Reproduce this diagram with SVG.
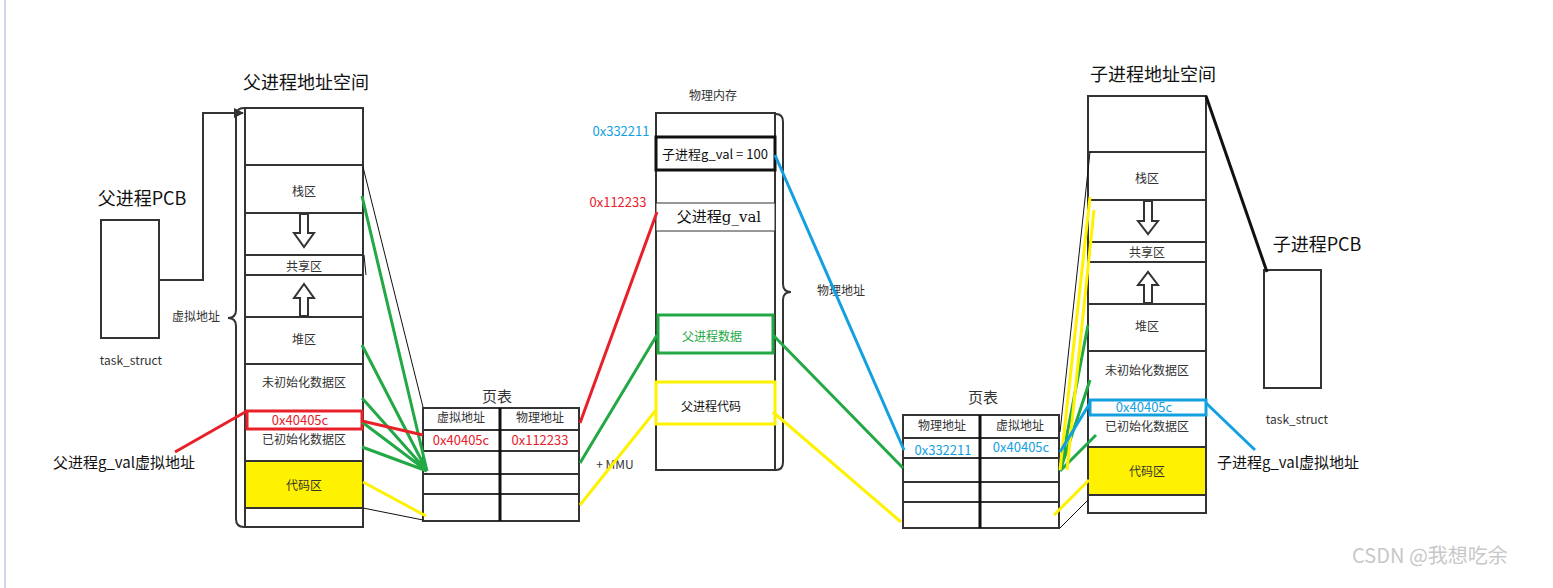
<svg xmlns="http://www.w3.org/2000/svg" width="1553" height="588" viewBox="0 0 1553 588">
<defs>
<style>
text{font-family:"Microsoft YaHei","Noto Sans CJK SC","Liberation Sans",sans-serif;fill:#333;text-anchor:middle;dominant-baseline:middle}
.s{font-size:12px}
.m{font-size:13px}
.t{font-size:18px;fill:#111}
.box{fill:#fff;stroke:#333;stroke-width:2}
.ln{stroke:#333;stroke-width:2;fill:none}
.g{stroke:#22a845;stroke-width:3;fill:none}
.y{stroke:#fff200;stroke-width:3;fill:none}
.r{stroke:#e8202a;stroke-width:3;fill:none}
.b{stroke:#12a0e0;stroke-width:3;fill:none}
.k{stroke:#111;stroke-width:1;fill:none}
.arr{fill:#fff;stroke:#333;stroke-width:2}
</style>
<marker id="ah" markerWidth="10" markerHeight="10" refX="9" refY="5" orient="auto" markerUnits="userSpaceOnUse"><path d="M0,0L10,5L0,10z" fill="#333"/></marker>
</defs>
<rect width="1553" height="588" fill="#fff"/>
<line x1="5" y1="0" x2="5" y2="588" stroke="#cfd8e8" stroke-width="2"/>

<g id="parentPCB">
<text x="142" y="200" class="t">父进程PCB</text>
<rect x="101" y="220" width="58" height="118" class="box"/>
<text x="131" y="362" class="s">task_struct</text>
</g>

<g id="parentSpace">
<text x="306" y="84" class="t">父进程地址空间</text>
<rect x="245" y="108" width="118" height="419" class="box"/>
<path d="M245 165H363M245 213H363M245 255H363M245 275H363M245 317H363M245 364H363M245 461H363M245 508H363" class="ln"/>
<rect x="245" y="461" width="118" height="47" fill="#fff200" stroke="#333" stroke-width="2"/>
<rect x="247" y="411" width="115" height="18" fill="none" stroke="#e8202a" stroke-width="3"/>
<text x="304" y="193" class="s">栈区</text>
<text x="304" y="268" class="s">共享区</text>
<text x="304" y="341" class="s">堆区</text>
<text x="304" y="384" class="s">未初始化数据区</text>
<text x="300" y="421" class="m" style="fill:#e8202a">0x40405c</text>
<text x="304" y="441" class="s">已初始化数据区</text>
<text x="304" y="487" class="s">代码区</text>
<path d="M300 214V233H294L304 247L314 233H308V214Z" class="arr"/>
<path d="M300 316V298H294L304 284L314 298H308V316Z" class="arr"/>
<path d="M244 108Q236 108 236 116V310Q236 318 228 318Q236 318 236 326V519Q236 527 244 527" class="ln"/>
<text x="196" y="318" class="s">虚拟地址</text>
</g>

<g id="leftTable">
<text x="497" y="398" style="font-size:15px">页表</text>
<rect x="423" y="408" width="156" height="113" class="box"/>
<path d="M423 430H579M423 451H579M423 474H579M423 494H579" class="ln"/>
<line x1="500" y1="408" x2="500" y2="521" stroke="#111" stroke-width="3"/>
<text x="461" y="419" class="s">虚拟地址</text>
<text x="540" y="419" class="s">物理地址</text>
<text x="461" y="441" class="m" style="fill:#e8202a">0x40405c</text>
<text x="540" y="441" class="m" style="fill:#e8202a">0x112233</text>
</g>

<g id="physMem">
<text x="713" y="97" class="s">物理内存</text>
<rect x="656" y="113" width="119" height="357" class="box"/>
<rect x="656" y="137" width="119" height="33" fill="#fff" stroke="#111" stroke-width="3"/>
<text x="715" y="155" class="m" style="fill:#111">子进程g_val = 100</text>
<rect x="656" y="203" width="119" height="28" fill="#fff" stroke="#333" stroke-width="1"/>
<text x="719" y="218" style="font-size:15px;font-family:'DejaVu Serif','Noto Sans CJK SC',serif;fill:#111">父进程g_val</text>
<rect x="658" y="315" width="115" height="38" fill="#fff" stroke="#22a845" stroke-width="3"/>
<text x="712" y="338" class="s" style="fill:#22a845">父进程数据</text>
<rect x="656" y="382" width="119" height="42" fill="#fff" stroke="#fff200" stroke-width="3"/>
<text x="711" y="408" class="s" style="fill:#111">父进程代码</text>
<text x="621" y="132" class="m" style="fill:#12a0e0">0x332211</text>
<text x="618" y="203" class="m" style="fill:#e8202a">0x112233</text>
<path d="M776 114Q783 114 783 122V284Q783 292 791 292Q783 292 783 300V462Q783 470 776 470" class="ln"/>
<text x="841" y="292" class="s">物理地址</text>
<text x="615" y="466" class="s">+ MMU</text>
</g>

<g id="rightTable">
<text x="983" y="399" style="font-size:15px">页表</text>
<rect x="903" y="415" width="156" height="113" class="box"/>
<path d="M903 438H1059M903 458H1059M903 482H1059M903 502H1059" class="ln"/>
<line x1="980" y1="415" x2="980" y2="528" stroke="#111" stroke-width="3"/>
<text x="942" y="427" class="s">物理地址</text>
<text x="1020" y="427" class="s">虚拟地址</text>
<text x="943" y="451" class="m" style="fill:#12a0e0">0x332211</text>
<text x="1021" y="448" class="m" style="fill:#12a0e0">0x40405c</text>
</g>

<g id="childSpace">
<text x="1153" y="76" class="t">子进程地址空间</text>
<rect x="1088" y="96" width="118" height="417" class="box"/>
<path d="M1088 152H1206M1088 200H1206M1088 242H1206M1088 262H1206M1088 304H1206M1088 351H1206M1088 447H1206M1088 495H1206" class="ln"/>
<rect x="1088" y="447" width="118" height="48" fill="#fff200" stroke="#333" stroke-width="2"/>
<rect x="1090" y="400" width="116" height="15" fill="none" stroke="#12a0e0" stroke-width="3"/>
<text x="1147" y="180" class="s">栈区</text>
<text x="1147" y="254" class="s">共享区</text>
<text x="1147" y="328" class="s">堆区</text>
<text x="1147" y="372" class="s">未初始化数据区</text>
<text x="1144" y="408" class="m" style="fill:#12a0e0">0x40405c</text>
<text x="1147" y="428" class="s">已初始化数据区</text>
<text x="1147" y="473" class="s">代码区</text>
<path d="M1144 201V221H1138L1148 234L1158 221H1152V201Z" class="arr"/>
<path d="M1144 303V285H1138L1148 272L1158 285H1152V303Z" class="arr"/>
</g>

<g id="childPCB">
<text x="1317" y="246" class="t">子进程PCB</text>
<rect x="1264" y="270" width="57" height="118" class="box"/>
<text x="1297" y="421" class="s">task_struct</text>
<text x="1288" y="464" style="font-size:15px;fill:#111">子进程g_val虚拟地址</text>
</g>

<g id="leftLabel">
<text x="124" y="464" style="font-size:15px;fill:#111">父进程g_val虚拟地址</text>
</g>

<g id="connectors">
<path d="M159 280H203V113H243" class="ln" marker-end="url(#ah)"/>
<path d="M1206 96L1267 272" stroke="#111" stroke-width="3" fill="none"/>
<path d="M363 167L423 407M363 508L423 520M1060 432L1090 152M1060 528L1088 500M364 255L366 275" class="k"/>
<path d="M362 196L427 471M362 345L427 471M362 398L427 471M362 422L427 471M362 447L427 471" class="g"/>
<path d="M580 463L657 335M773 335L903 468M1060 471L1088 325M1060 471L1090 380M1060 471L1096 435" class="g"/>
<path d="M363 482L426 516M580 505L656 410M773 412L901 522M1054 515L1089 480M1060 470L1090 197M1067 470L1094 210" class="y"/>
<path d="M175 452L247 411M423 435L362 421M580 423L657 212" class="r"/>
<path d="M775 155L904 450M1060 452L1090 403M1206 403L1255 450" class="b"/>
</g>
<text x="1430" y="558" style="font-size:20px;fill:#c8c8c8">CSDN @我想吃余</text>
</svg>
